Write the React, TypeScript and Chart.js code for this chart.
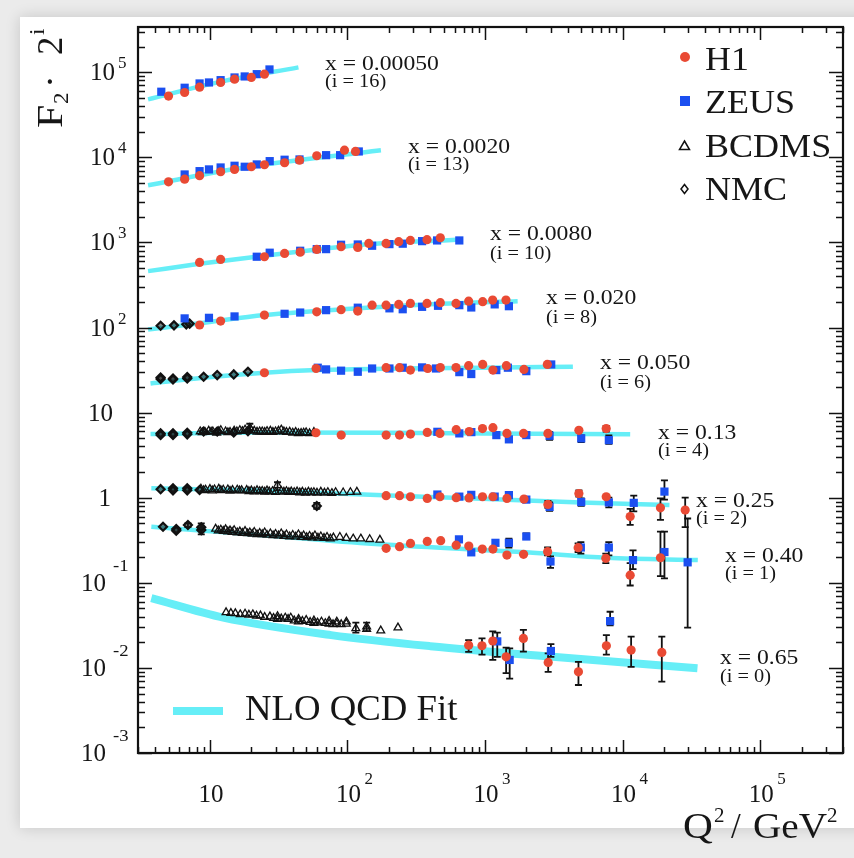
import { useEffect, useRef } from 'react';
import { Chart, registerables } from 'chart.js';
Chart.register(...registerables);

type P = [number, number];
type E = [number, number, number];

// ---------- Axis ranges ----------
const X_MIN = 3;
const X_MAX = 4e5;
const Y_MIN = 1e-3;
const Y_MAX = 3.4e5;
const X_DECADES = [1, 2, 3, 4, 5];
const Y_DECADES = [-3, -2, -1, 0, 1, 2, 3, 4, 5];

// ---------- Bin labels ----------
const BIN_X = ['0.00050', '0.0020', '0.0080', '0.020', '0.050', '0.13', '0.25', '0.40', '0.65'];
const BIN_I = [16, 13, 10, 8, 6, 4, 2, 1, 0];

// ---------- H1 (Q2, F2*2^i) ----------
const H1_16: P[] = [[5.0, 52400], [6.55, 57800], [8.41, 66800], [11.96, 75800], [15.1, 82900], [20, 86800], [24.9, 94900]];
const H1_13: P[] = [[5.0, 5160], [6.55, 5540], [8.41, 6080], [11.96, 6770], [15.1, 7210], [20, 7750], [24.9, 8180], [34.9, 8630], [44.8, 9260], [59.8, 10440], [95.1, 12140], [114.3, 11720]];
const H1_10: P[] = [[8.41, 582], [11.96, 631], [24.9, 679], [34.9, 743], [45.3, 769], [59.8, 827], [89.8, 890], [118.8, 873], [142.9, 973], [190.8, 973], [235.8, 1019], [286.6, 1055], [378.5, 1076], [473, 1135]];
const H1_8: P[] = [[8.41, 107], [11.96, 119], [24.9, 140], [59.8, 153], [89.8, 162], [118.8, 156], [151, 183], [190.8, 183], [235.8, 187], [286.6, 192], [378.5, 192], [473, 196], [615, 192], [760, 204], [961, 201], [1136, 210], [1419, 210]];
const H1_6: P[] = [[24.9, 29.4], [59.1, 33.0], [190.8, 33.7], [238.8, 33.7], [286.6, 31.6], [383, 33.0], [473, 33.8], [615, 33.8], [760, 35.6], [961, 36.8], [1141, 31.6], [1429, 35.6], [1918, 32.2], [2835, 36.8]];
const H1_4: P[] = [[59, 5.8], [90, 5.45], [191, 5.45], [239, 5.45], [287, 5.6], [380, 5.85], [470, 5.7], [617, 6.3], [767, 6.0], [958, 6.5], [1141, 6.65], [1442, 5.7], [1905, 5.7], [2864, 5.7], [4810, 6.2], [7600, 6.5]];
const H1_2: P[] = [[191, 1.056], [239, 1.056], [287, 1.027], [380, 0.98], [470, 1.027], [617, 1.0], [765, 0.995], [958, 1.027], [1141, 1.027], [1442, 0.98], [1918, 0.963], [2864, 0.834], [4810, 1.12], [7600, 1.027], [11350, 0.6], [18840, 0.76], [28500, 0.715]];
const H1_1: P[] = [[191, 0.254], [239, 0.266], [287, 0.29], [380, 0.306], [476, 0.313], [617, 0.277], [762, 0.27], [955, 0.249], [1141, 0.249], [1442, 0.212], [1905, 0.216], [2850, 0.232], [4750, 0.259], [7550, 0.194], [11350, 0.123], [18840, 0.197]];
const H1_0: P[] = [[760, 0.0185], [950, 0.0182], [1138, 0.0207], [1423, 0.0135], [1900, 0.0222], [2877, 0.0116], [4775, 0.009], [7620, 0.0182], [11530, 0.0162], [19270, 0.0152]];

// ---------- ZEUS ----------
const ZEUS_16: P[] = [[4.43, 59000], [6.55, 65700], [8.41, 73800], [9.84, 75800], [11.96, 80700], [15.1, 86800], [17.9, 89200], [21.9, 94900], [27.1, 107800]];
const ZEUS_13: P[] = [[6.55, 6290], [8.41, 6880], [9.84, 7210], [11.96, 7600], [15.1, 7960], [17.9, 7750], [21.9, 8250], [27.2, 9020], [34.9, 9370], [44.8, 9440], [69.9, 10600], [88.4, 10600], [120.8, 11720]];
const ZEUS_10: P[] = [[21.9, 679], [27.2, 757], [45.3, 798], [59.8, 834], [69.9, 834], [89.8, 939], [118.8, 946], [151, 914], [201.8, 955], [252.2, 966], [348.5, 1035], [447.9, 1055], [650, 1055]];
const ZEUS_8: P[] = [[6.55, 128], [9.84, 130], [15.1, 135], [34.9, 145], [45.3, 150], [69.9, 160], [118.8, 171], [201.8, 168], [252, 164], [348.5, 175], [455, 180], [650, 183], [794, 172], [1175, 187], [1490, 178]];
const ZEUS_6: P[] = [[60.8, 33.7], [69.9, 32.2], [89.8, 31.1], [118.8, 30.2], [151, 33.0], [201.8, 33.0], [252, 33.7], [348.5, 34.0], [440, 33.0], [650, 29.9], [794, 28.4], [1208, 31.6], [1465, 33.7], [1995, 30.7], [3027, 36.8]];
const ZEUS_4: P[] = [[450, 5.95], [650, 5.7], [795, 5.9], [1208, 5.44], [1490, 4.85], [1995, 5.44], [2945, 5.34], [5000, 4.98], [7940, 4.75]];
const ZEUS_2: P[] = [[450, 1.09], [650, 1.03], [794, 1.08], [1175, 1.03], [1490, 1.073], [1995, 0.95], [2945, 0.78], [5000, 0.89], [7940, 0.88], [12050, 0.87], [20140, 1.18]];
const ZEUS_1: P[] = [[646, 0.324], [794, 0.228], [1190, 0.295], [1490, 0.295], [1995, 0.35], [2990, 0.178], [4970, 0.26], [7940, 0.26], [11900, 0.185], [20140, 0.23], [29700, 0.174]];
const ZEUS_0: P[] = [[1227, 0.0205], [1510, 0.0124], [3010, 0.0158], [8110, 0.0355]];

// ---------- BCDMS ----------
const BCDMS_4: P[] = [[8.5, 6.0], [8.8, 5.85], [9.2, 5.9], [9.8, 6.1], [10.2, 5.95], [10.5, 6.0], [11.2, 5.8], [11.6, 6.05], [12, 6.2], [13, 6.0], [13.5, 5.85], [14, 5.9], [15, 6.1], [15.7, 6.0], [16.5, 6.2], [17.2, 6.05], [18, 6.3], [19.5, 6.6], [20, 6.2], [21, 6.1], [22, 5.95], [23, 6.0], [24, 6.0], [25, 5.9], [26, 6.05], [27.5, 6.1], [28.7, 5.9], [30, 6.0], [31.5, 6.1], [33, 6.3], [34.5, 6.0], [36, 5.9], [38, 5.95], [40, 5.8], [42, 5.9], [44, 5.7], [46, 5.75], [48, 5.8], [50, 5.85], [53, 5.7], [57, 5.9]];
const BCDMS_2: P[] = [[8.6, 1.27], [9, 1.22], [9.3, 1.24], [10, 1.26], [10.4, 1.21], [10.8, 1.25], [11.6, 1.27], [12, 1.22], [12.5, 1.24], [13.5, 1.25], [14, 1.2], [14.6, 1.23], [15.8, 1.24], [16.4, 1.21], [17, 1.22], [18.5, 1.23], [19.2, 1.19], [20, 1.21], [21, 1.18], [22, 1.22], [23, 1.19], [24, 1.2], [25, 1.17], [26, 1.21], [27, 1.18], [28.5, 1.19], [30, 1.16], [31, 1.4], [33, 1.2], [34.5, 1.17], [36, 1.19], [37.5, 1.16], [39, 1.18], [41, 1.16], [43, 1.18], [45, 1.15], [47, 1.17], [49.5, 1.14], [52, 1.17], [54.5, 1.15], [57, 1.16], [60, 1.14], [64, 1.17], [68, 1.14], [72, 1.16], [77, 1.13], [82, 1.16], [93, 1.15], [105, 1.16], [117, 1.17]];
const BCDMS_1: P[] = [[11, 0.43], [11.5, 0.41], [12, 0.42], [12.5, 0.405], [13, 0.425], [13.5, 0.4], [14, 0.41], [14.5, 0.395], [15, 0.415], [15.8, 0.39], [16.5, 0.4], [17.2, 0.385], [18, 0.405], [18.8, 0.38], [19.5, 0.39], [20.3, 0.375], [21, 0.395], [22, 0.37], [23, 0.385], [24, 0.372], [25, 0.39], [26, 0.365], [27.5, 0.38], [28.8, 0.36], [30, 0.375], [31.5, 0.358], [33, 0.38], [34.5, 0.355], [36, 0.37], [38, 0.35], [40, 0.365], [42, 0.348], [44, 0.37], [46, 0.345], [48, 0.36], [50.5, 0.342], [53, 0.355], [55.5, 0.34], [58, 0.36], [61, 0.338], [64, 0.35], [67.5, 0.335], [71, 0.345], [75, 0.33], [79, 0.34], [88, 0.345], [98, 0.335], [110, 0.33], [125, 0.33], [145, 0.325], [172, 0.32]];
const BCDMS_0: P[] = [[13.1, 0.0449], [14.2, 0.044], [15.3, 0.0437], [16.6, 0.0425], [18, 0.0433], [19.2, 0.042], [20.5, 0.0425], [21.8, 0.041], [23.3, 0.0411], [25, 0.0395], [27.3, 0.04], [29, 0.0385], [31, 0.0404], [31, 0.0375], [33, 0.038], [35.3, 0.0389], [37, 0.0375], [38.7, 0.0389], [41, 0.036], [44.1, 0.0375], [44, 0.035], [47, 0.0355], [50.1, 0.0365], [53.5, 0.0345], [57, 0.0359], [57, 0.0335], [60.5, 0.034], [64.7, 0.0349], [69, 0.0335], [73.5, 0.0355], [73.5, 0.033], [78.5, 0.0325], [83.6, 0.0349], [83.6, 0.0328], [90, 0.0325], [98.2, 0.0349], [98, 0.033], [115, 0.0291], [137.8, 0.0305], [137.8, 0.0285], [174.5, 0.0274], [232.8, 0.0297]];

// ---------- NMC ----------
const NMC_8: P[] = [[4.38, 105], [5.48, 106], [6.73, 109], [7.12, 111]];
const NMC_6: P[] = [[4.38, 24.8], [4.38, 25.8], [5.39, 25.2], [5.39, 24.5], [6.84, 25.2], [6.84, 26.2], [9.0, 26.4], [11.3, 27.6], [14.9, 28.1], [18.9, 30.2]];
const NMC_4: P[] = [[4.38, 5.7], [4.38, 5.45], [5.39, 5.7], [5.39, 5.45], [6.84, 5.8], [6.84, 5.55], [9.0, 6.0], [11.3, 6.0], [14.9, 5.85], [18.9, 6.06]];
const NMC_2: P[] = [[4.38, 1.26], [5.39, 1.29], [5.39, 1.22], [6.84, 1.29], [6.84, 1.22], [8.41, 1.23], [59.8, 0.8]];
const NMC_1: P[] = [[4.56, 0.456], [5.69, 0.428], [5.69, 0.41], [6.92, 0.477], [8.65, 0.416], [8.65, 0.45]];

// ---------- Error bars (Q2, low, high) ----------
const H1_ERR: E[] = [[7600, 6.0, 7.0], [2864, 0.76, 0.92], [4810, 1.03, 1.22], [11350, 0.48, 0.74], [18840, 0.55, 0.98], [28500, 0.45, 1.0],
  [2850, 0.21, 0.26], [4750, 0.23, 0.29], [7550, 0.17, 0.22], [11350, 0.093, 0.17], [18840, 0.12, 0.4],
  [760, 0.0154, 0.0212], [950, 0.0143, 0.0222], [1138, 0.0124, 0.0268], [1423, 0.0087, 0.0173], [1900, 0.0155, 0.028], [2877, 0.009, 0.0148], [4775, 0.0063, 0.0118], [7620, 0.0143, 0.0243], [11530, 0.0103, 0.0233], [19270, 0.0069, 0.0233]];
const ZEUS_ERR: E[] = [[1490, 4.5, 5.2], [2945, 4.8, 5.9], [5000, 4.5, 5.4], [7940, 4.3, 5.4],
  [2945, 0.7, 0.88], [5000, 0.8, 0.98], [7940, 0.77, 1.0], [12050, 0.69, 1.06], [20140, 0.95, 1.6],
  [1490, 0.26, 0.33], [1995, 0.33, 0.38], [2990, 0.15, 0.205], [4970, 0.22, 0.3], [7940, 0.21, 0.3], [11900, 0.145, 0.24], [20140, 0.113, 0.4], [29700, 0.0297, 0.57],
  [1227, 0.0135, 0.026], [1510, 0.0075, 0.017], [3010, 0.0135, 0.019], [8110, 0.0317, 0.0457]];
const FIXED_TARGET_ERR: E[] = [[19.5, 6.0, 7.4], [31, 1.22, 1.52], [115, 0.026, 0.034], [137.8, 0.027, 0.034], [8.65, 0.37, 0.5], [59.8, 0.74, 0.87], [6.92, 0.45, 0.5]];

// ---------- NLO QCD fit curves ----------
const FIT_16: P[] = [[3.55, 48000], [11.8, 77000], [44, 114000]];
const FIT_13: P[] = [[3.55, 4700], [16, 7400], [175, 12100]];
const FIT_10: P[] = [[3.55, 460], [8.4, 560], [25, 697], [119, 929], [687, 1084]];
const FIT_8: P[] = [[3.55, 95], [8.4, 112], [24.9, 140], [119, 168], [473, 190], [1726, 204]];
const FIT_6: P[] = [[3.7, 22], [8.9, 25.7], [25, 29.4], [60, 31.6], [240, 33], [960, 33.7], [4350, 34.6]];
const FIT_4: P[] = [[3.7, 5.6], [20, 5.85], [200, 5.8], [1000, 5.7], [11350, 5.55]];
const FIT_2: P[] = [[3.75, 1.29], [20, 1.22], [117, 1.1], [960, 0.97], [5000, 0.88], [21900, 0.82]];
const FIT_1: P[] = [[3.75, 0.456], [16, 0.381], [140, 0.29], [1000, 0.242], [2000, 0.228], [7700, 0.197], [35200, 0.185]];
const FIT_0: P[] = [[3.75, 0.066], [12.5, 0.039], [76, 0.0243], [400, 0.018], [3100, 0.0135], [35000, 0.0099]];

const FITS = [FIT_16, FIT_13, FIT_10, FIT_8, FIT_6, FIT_4, FIT_2, FIT_1, FIT_0];

const RED = '#e94a34';
const BLUE = '#1b4ff0';
const CYAN = '#66eef7';
const INK = '#161616';
const FONT = '"Liberation Serif", "Times New Roman", serif';

const pts = (...arrs: P[][]) => arrs.flat().map(([x, y]) => ({ x, y }));

function txt(ctx: CanvasRenderingContext2D, s: string, x: number, y: number, size: number, align: CanvasTextAlign = 'left', hs = 1) {
  ctx.save();
  ctx.font = `${size}px ${FONT}`;
  ctx.textAlign = align;
  ctx.textBaseline = 'alphabetic';
  ctx.fillStyle = INK;
  ctx.translate(x, y);
  ctx.scale(hs, 1);
  ctx.fillText(s, 0, 0);
  ctx.restore();
}

function rtxt(ctx: CanvasRenderingContext2D, s: string, bx: number, sy: number, size: number, hs = 1) {
  ctx.save();
  ctx.font = `${size}px ${FONT}`;
  ctx.textAlign = 'left';
  ctx.textBaseline = 'alphabetic';
  ctx.fillStyle = INK;
  ctx.translate(bx, sy);
  ctx.rotate(-Math.PI / 2);
  ctx.scale(hs, 1);
  ctx.fillText(s, 0, 0);
  ctx.restore();
}

const bgPlugin = {
  id: 'bg',
  beforeDraw(chart: any) {
    const ctx = chart.ctx as CanvasRenderingContext2D;
    ctx.save();
    ctx.fillStyle = '#ebebeb';
    ctx.fillRect(0, 0, chart.width, chart.height);
    ctx.shadowColor = 'rgba(0,0,0,0.16)';
    ctx.shadowBlur = 14;
    ctx.fillStyle = '#ffffff';
    ctx.fillRect(20, 17, chart.width + 40, 811);
    ctx.restore();
  },
};

const errPlugin = {
  id: 'errbars',
  beforeDatasetDraw(chart: any, args: any) {
    if (chart.data.datasets[args.index].label !== 'NMC') return;
    const ctx = chart.ctx as CanvasRenderingContext2D;
    const xs = chart.scales.x, ys = chart.scales.y;
    ctx.save();
    ctx.strokeStyle = '#111';
    ctx.lineWidth = 1.8;
    for (const [q, lo, hi] of [...H1_ERR, ...ZEUS_ERR, ...FIXED_TARGET_ERR]) {
      const px = xs.getPixelForValue(q);
      const y1 = ys.getPixelForValue(lo), y2 = ys.getPixelForValue(hi);
      ctx.beginPath();
      ctx.moveTo(px, y1); ctx.lineTo(px, y2);
      ctx.moveTo(px - 3.5, y1); ctx.lineTo(px + 3.5, y1);
      ctx.moveTo(px - 3.5, y2); ctx.lineTo(px + 3.5, y2);
      ctx.stroke();
    }
    ctx.restore();
  },
};

const framePlugin = {
  id: 'frame',
  afterDraw(chart: any) {
    const ctx = chart.ctx as CanvasRenderingContext2D;
    const a = chart.chartArea;
    const xs = chart.scales.x, ys = chart.scales.y;
    ctx.save();
    ctx.strokeStyle = '#111';
    ctx.lineWidth = 1.5;
    ctx.beginPath();
    for (let d = 0; d <= 5; d++) {
      for (let m = 1; m <= 9; m++) {
        const v = m * Math.pow(10, d);
        if (v < X_MIN || v > X_MAX) continue;
        const px = Math.round(xs.getPixelForValue(v)) + 0.5;
        const len = m === 1 ? 13 : 6;
        ctx.moveTo(px, a.bottom); ctx.lineTo(px, a.bottom - len);
        ctx.moveTo(px, a.top); ctx.lineTo(px, a.top + len);
      }
    }
    for (let d = -3; d <= 5; d++) {
      for (let m = 1; m <= 9; m++) {
        const v = m * Math.pow(10, d);
        if (v < Y_MIN * 0.999 || v > Y_MAX) continue;
        const py = Math.round(ys.getPixelForValue(v)) + 0.5;
        const len = m === 1 ? 14 : 7;
        ctx.moveTo(a.left, py); ctx.lineTo(a.left + len, py);
        ctx.moveTo(a.right, py); ctx.lineTo(a.right - len, py);
      }
    }
    ctx.stroke();
    ctx.lineWidth = 2.2;
    ctx.strokeRect(a.left, a.top, a.right - a.left, a.bottom - a.top);
    ctx.restore();

    // y tick labels
    for (const e of Y_DECADES) {
      const py = ys.getPixelForValue(Math.pow(10, e));
      if (e === 0) txt(ctx, '1', 111, py + 8, 25, 'right');
      else if (e === 1) txt(ctx, '10', 113, py + 8, 25, 'right');
      else if (e > 1) {
        txt(ctx, '10', 115, py + 8, 25, 'right');
        txt(ctx, String(e), 118, py - 4, 17, 'left');
      } else {
        txt(ctx, '10', 106, py + 8, 25, 'right');
        txt(ctx, '-' + String(-e), 113, py - 12, 17, 'left', 1.1);
      }
    }
    // x tick labels
    for (const e of X_DECADES) {
      const px = xs.getPixelForValue(Math.pow(10, e));
      txt(ctx, '10', px + 1, 802, 25, 'center');
      if (e > 1) txt(ctx, String(e), px + 17, 784, 17, 'left');
    }
    // x-axis title
    txt(ctx, 'Q', 683, 838, 35, 'left', 1.18);
    txt(ctx, '2', 714, 822, 21, 'left');
    txt(ctx, '/', 731, 838, 35, 'left');
    txt(ctx, 'GeV', 753, 838, 35, 'left', 1.12);
    txt(ctx, '2', 827, 822, 21, 'left');
    // y-axis title (rotated)
    rtxt(ctx, 'F', 62, 128, 35, 1.2);
    rtxt(ctx, '2', 68, 104, 21, 1.1);
    rtxt(ctx, '·', 62, 88, 35, 1.1);
    rtxt(ctx, '2', 62, 55, 35, 1.05);
    rtxt(ctx, 'i', 44, 35, 21, 1.1);

    // bin labels
    const lx = [325, 408, 490, 546, 600, 658, 696, 725, 720];
    const b1 = [70, 153, 240, 304, 369, 439, 507, 562, 664];
    const b2 = [87, 170, 259, 323, 388, 456, 524, 579, 682];
    for (let k = 0; k < BIN_X.length; k++) {
      txt(ctx, `x = ${BIN_X[k]}`, lx[k], b1[k], 21.5, 'left', 1.1);
      txt(ctx, `(i = ${BIN_I[k]})`, lx[k], b2[k], 18.5, 'left', 1.1);
    }

    // legend (top right)
    ctx.save();
    ctx.fillStyle = RED;
    ctx.beginPath(); ctx.arc(685, 57, 5, 0, Math.PI * 2); ctx.fill();
    ctx.fillStyle = BLUE;
    ctx.fillRect(680, 96, 10, 10);
    ctx.strokeStyle = '#111'; ctx.lineWidth = 1.5;
    ctx.beginPath(); ctx.moveTo(684.5, 141); ctx.lineTo(689.5, 149.5); ctx.lineTo(679.5, 149.5); ctx.closePath(); ctx.stroke();
    ctx.beginPath(); ctx.moveTo(684.5, 184.5); ctx.lineTo(688, 189); ctx.lineTo(684.5, 193.5); ctx.lineTo(681, 189); ctx.closePath(); ctx.stroke();
    ctx.restore();
    txt(ctx, 'H1', 705, 70, 34, 'left', 1.06);
    txt(ctx, 'ZEUS', 705, 113, 34, 'left', 1.06);
    txt(ctx, 'BCDMS', 705, 157, 34, 'left', 1.06);
    txt(ctx, 'NMC', 705, 200, 34, 'left', 1.06);

    // fit legend (bottom left)
    ctx.save();
    ctx.strokeStyle = CYAN; ctx.lineWidth = 8;
    ctx.beginPath(); ctx.moveTo(173, 711); ctx.lineTo(223, 711); ctx.stroke();
    ctx.restore();
    txt(ctx, 'NLO QCD Fit', 245, 720, 35, 'left', 1.05);
  },
};

export default function App() {
  const ref = useRef<HTMLCanvasElement>(null);
  useEffect(() => {
    const canvas = ref.current!;
    const fitSets = FITS.map((f, k) => ({
      label: `fit${k}`,
      data: pts(f),
      showLine: true,
      borderColor: CYAN,
      backgroundColor: CYAN,
      borderWidth: k === FITS.length - 1 ? 8 : 4.5,
      pointRadius: 0,
      cubicInterpolationMode: 'monotone' as const,
      borderCapStyle: 'butt' as const,
      order: 10,
    }));
    const chart = new Chart(canvas, {
      type: 'scatter',
      data: {
        datasets: [
          ...fitSets,
          { label: 'NMC', data: pts(NMC_8, NMC_6, NMC_4, NMC_2, NMC_1), pointStyle: 'rectRot', pointRadius: 4, backgroundColor: 'rgba(30,30,30,0.55)', borderColor: '#111', borderWidth: 2.2, order: 4 },
          { label: 'BCDMS', data: pts(BCDMS_4, BCDMS_2, BCDMS_1, BCDMS_0), pointStyle: 'triangle', pointRadius: 4.5, backgroundColor: 'rgba(0,0,0,0)', borderColor: '#111', borderWidth: 1.3, order: 3 },
          { label: 'ZEUS', data: pts(ZEUS_16, ZEUS_13, ZEUS_10, ZEUS_8, ZEUS_6, ZEUS_4, ZEUS_2, ZEUS_1, ZEUS_0), pointStyle: 'rect', pointRadius: 5.8, backgroundColor: BLUE, borderWidth: 0, order: 2 },
          { label: 'H1', data: pts(H1_16, H1_13, H1_10, H1_8, H1_6, H1_4, H1_2, H1_1, H1_0), pointStyle: 'circle', pointRadius: 4.6, backgroundColor: RED, borderWidth: 0, order: 1 },
        ] as any,
      },
      options: {
        responsive: false,
        animation: false,
        devicePixelRatio: 1,
        events: [],
        layout: { padding: { left: 138, top: 27, right: 11, bottom: 105 } },
        plugins: { legend: { display: false }, tooltip: { enabled: false } },
        scales: {
          x: { type: 'logarithmic', min: X_MIN, max: X_MAX, display: false },
          y: { type: 'logarithmic', min: Y_MIN, max: Y_MAX, display: false },
        },
      },
      plugins: [bgPlugin, errPlugin, framePlugin],
    });
    return () => chart.destroy();
  }, []);
  return (
    <div style={{ position: 'absolute', left: 0, top: 0, width: 854, height: 858 }}>
      <canvas ref={ref} width={854} height={858} style={{ width: 854, height: 858, display: 'block' }} />
    </div>
  );
}
